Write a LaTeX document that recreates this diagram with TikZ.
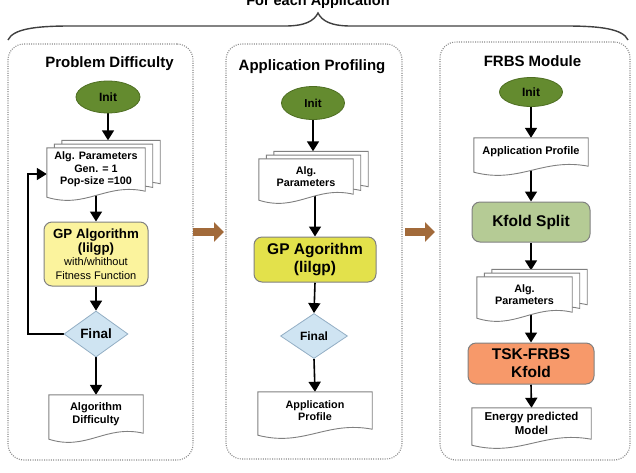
\documentclass[tikz,border=0pt]{standalone}
\usepackage{fontspec}
\setmainfont{Liberation Sans}
\usetikzlibrary{shapes.geometric,arrows.meta,calc}
\pgfdeclarelayer{bg}
\pgfdeclarelayer{docs}
\pgfsetlayers{bg,docs,main}
\definecolor{initfill}{HTML}{648B2F}
\definecolor{initdraw}{HTML}{4E6E22}
\definecolor{gpone}{HTML}{FBF39D}
\definecolor{gptwo}{HTML}{E3E14B}
\definecolor{kfoldc}{HTML}{B5CB95}
\definecolor{tskc}{HTML}{F7996A}
\definecolor{finc}{HTML}{CFE4F2}
\definecolor{findraw}{HTML}{93AEC4}
\definecolor{boxdraw}{HTML}{808080}
\definecolor{brownc}{HTML}{A26A3A}
\definecolor{panelc}{HTML}{8A8A8A}
\definecolor{bracec}{HTML}{404040}
\newcommand\fs[2]{\fontsize{#1}{#2}\selectfont}
\newcommand\docout[2][]{%
 \begin{pgfonlayer}{docs}
 \draw[docline,#1] (#2.north west) -- (#2.north east) -- (#2.south east)
 .. controls ($(#2.south west)!0.6!(#2.south east)+(0pt,8.7pt)$) and ($(#2.south west)!0.4!(#2.south east)+(0pt,-18pt)$) .. ([yshift=-6pt]#2.south west) -- cycle;
 \end{pgfonlayer}}
\newcommand\docstack[1]{%
 \docout[transform canvas={shift={(15pt,7.5pt)}}]{#1}%
 \docout[transform canvas={shift={(7.5pt,3.75pt)}}]{#1}%
 \docout{#1}}
\tikzset{
 docline/.style={draw=boxdraw, line width=0.9pt, fill=white},
 doctext/.style={align=center, inner sep=0pt, font=\bfseries\fs{10.8}{12.5}},
 initnode/.style={ellipse, draw=initdraw, line width=0.8pt, fill=initfill, inner sep=0pt, font=\bfseries\fs{12}{14}},
 procbox/.style={rounded corners=8pt, draw=boxdraw, line width=1pt, align=center, inner sep=0pt},
 finalnode/.style={diamond, draw=findraw, line width=0.8pt, fill=finc, inner sep=-4pt, font=\bfseries\fs{13}{15}},
 panelbox/.style={draw=panelc, line width=1.1pt, dash pattern=on 1pt off 1.3pt, rounded corners=16pt, inner sep=0pt},
 ptitle/.style={anchor=base, font=\bfseries\fs{15}{17}},
 arr/.style={line width=1.6pt, -{Triangle[width=12pt,length=10pt]}},
 barrow/.style={line width=8.5pt, draw=brownc, -{Triangle[width=19pt,length=10pt]}},
}
\begin{document}
\begin{tikzpicture}[x=1pt,y=-1pt]
\useasboundingbox (0,0) rectangle (636,472);
% heading and brace
\node[anchor=base, font=\bfseries\fs{14.5}{16}] (ttl) at (318,5) {For each Application};
\coordinate (brl) at (8,40);
\coordinate (brm) at (318,13);
\coordinate (brr) at (628,40);
\draw[bracec, line width=1.4pt] (brl) .. controls (13,29) and (35,26) .. (70,26) -- (285,26) .. controls (305,26) and (314,21) .. (brm)
  .. controls (322,21) and (331,26) .. (351,26) -- (566,26) .. controls (601,26) and (623,29) .. (brr);
% panels
\node[panelbox, minimum width=185pt, minimum height=416pt] (pan1) at (100.5,252) {};
\node[panelbox, minimum width=176pt, minimum height=415pt] (pan2) at (314,251.5) {};
\node[panelbox, minimum width=190pt, minimum height=418pt] (pan3) at (535,251) {};
\node[ptitle] (tt1) at (109.5,67) {Problem Difficulty};
\node[ptitle] (tt2) at (312,70) {Application Profiling};
\node[ptitle] (tt3) at (532.5,66) {FRBS Module};
% block arrows between panels
\coordinate (ba1s) at (193,232);
\coordinate (ba1e) at (224,232);
\coordinate (ba2s) at (405,232);
\coordinate (ba2e) at (435,232);
\draw[barrow] (ba1s) -- (ba1e);
\draw[barrow] (ba2s) -- (ba2e);
% ---------- panel 1
\node[initnode, minimum width=64pt, minimum height=32pt] (init1) at (108,97) {Init};
\node[doctext, minimum width=98pt, minimum height=43pt, font=\bfseries\fs{10.8}{12.5}] (par1) at (96,169.5) {Alg. Parameters\\Gen. = 1\\Pop-size =100};
\node[procbox, fill=gpone, minimum width=104pt, minimum height=64pt, font=\fs{11}{13.5}] (gp1) at (96,254)
  {{\bfseries\fs{13.3}{14}GP Algorithm}\\{\bfseries\fs{13.3}{14}(lilgp)}\\with/whithout\\Fitness Function};
\node[finalnode, minimum width=64pt, minimum height=46pt, font=\bfseries\fs{13.5}{15}] (fin1) at (96,334) {Final};
\node[doctext, minimum width=94pt, minimum height=38pt, font=\bfseries\fs{11}{12.5}] (dif1) at (96,414) {Algorithm\\Difficulty};
\coordinate (bk1) at ($(par1.north)+(15pt,7.5pt)$);
\coordinate (lp1) at (28,334);
\coordinate (lpt) at ([yshift=-4.5pt]par1.west);
% ---------- panel 2
\node[initnode, minimum width=63pt, minimum height=33pt, font=\bfseries\fs{11.5}{14}] (init2) at (313,103) {Init};
\node[doctext, minimum width=94pt, minimum height=35pt, font=\bfseries\fs{10.8}{12}] (par2) at (306,176.5) {Alg.\\Parameters};
\node[procbox, fill=gptwo, minimum width=122pt, minimum height=45pt, font=\bfseries\fs{15.5}{18}] (gp2) at (315,259.5) {GP Agorithm\\(lilgp)};
\node[finalnode, minimum width=67pt, minimum height=45pt, font=\bfseries\fs{12}{14}] (fin2) at (314,336) {Final};
\node[doctext, minimum width=114pt, minimum height=37pt, font=\bfseries\fs{10.8}{12}] (app2) at (315,410.5) {Application\\Profile};
\coordinate (bk2) at ($(par2.north)+(15pt,7.5pt)$);
% ---------- panel 3
\node[initnode, minimum width=63pt, minimum height=29pt] (init3) at (531,92) {Init};
\node[doctext, minimum width=114pt, minimum height=28pt, font=\bfseries\fs{11}{13}] (app3) at (531,152) {Application Profile};
\node[procbox, fill=kfoldc, minimum width=118pt, minimum height=40pt, font=\bfseries\fs{15.5}{18}] (kf3) at (531,222) {Kfold Split};
\node[doctext, minimum width=95pt, minimum height=35pt, font=\bfseries\fs{10.8}{12}] (par3) at (524.5,294.5) {Alg.\\Parameters};
\node[procbox, fill=tskc, minimum width=126pt, minimum height=41pt, font=\bfseries\fs{15.5}{18}] (tsk3) at (531,363.5) {TSK-FRBS\\Kfold};
\node[doctext, minimum width=119pt, minimum height=31pt, font=\bfseries\fs{11.5}{14}] (en3) at (531.5,423.5) {Energy predicted\\Model};
\coordinate (bk3) at ($(par3.north)+(15pt,6.5pt)$);
% document outlines
\docstack{par1}
\docout{dif1}
\docstack{par2}
\docout{app2}
\docout{app3}
\docstack{par3}
\docout{en3}
% connectors
\begin{pgfonlayer}{bg}
\draw[arr] (init1.south) -- (init1.south |- bk1);
\draw[arr] (gp1.north |- par1.south) -- (gp1.north);
\draw[arr] (gp1.south) -- (fin1.north);
\draw[arr] (fin1.south) -- (dif1.north);
\draw[arr] (fin1.west) -- (lp1) -- (lp1 |- lpt) -- (lpt);
\draw[arr] (init2.south) -- (init2.south |- bk2);
\draw[arr] (gp2.north |- par2.south) -- (gp2.north);
\draw[arr] (gp2.south) -- (fin2.north);
\draw[arr] (fin2.south) -- (app2.north);
\draw[arr] (init3.south) -- (init3.south |- app3.north);
\draw[arr] (kf3.north |- app3.south) -- (kf3.north);
\draw[arr] (kf3.south) -- (kf3.south |- bk3);
\draw[arr] (tsk3.north |- par3.south) -- (tsk3.north);
\draw[arr] (tsk3.south) -- (en3.north);
\end{pgfonlayer}
\end{tikzpicture}
\end{document}
